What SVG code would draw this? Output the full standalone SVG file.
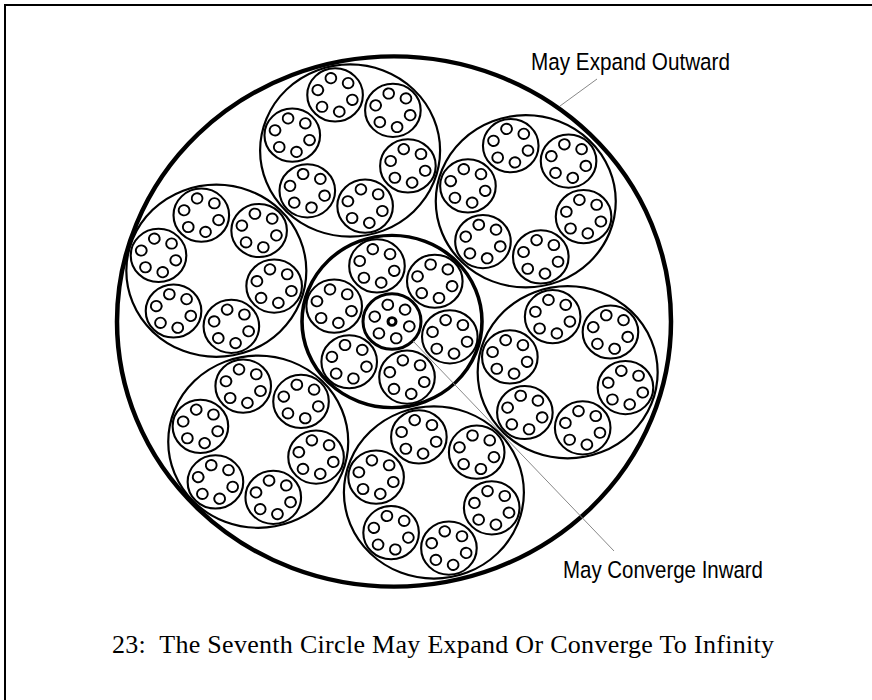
<svg xmlns="http://www.w3.org/2000/svg" width="872" height="700" viewBox="0 0 872 700">
<style>
.c{fill:none;stroke:#000}
.s{stroke-width:1.9}
.m{stroke-width:2.1}
.b{stroke-width:2.2}
.lbl{font-family:"Liberation Sans",Arial,sans-serif;font-size:24.5px;fill:#000}
.cap{font-family:"Liberation Serif","Times New Roman",serif;font-size:26px;fill:#000}
.lead{stroke:#888;stroke-width:1;fill:none}
</style>
<defs>
<circle id="sm" r="5.4" class="c s"/>
<g id="ring6">
<use href="#sm" transform="rotate(16.5) translate(18,0)"/>
<use href="#sm" transform="rotate(76.5) translate(18,0)"/>
<use href="#sm" transform="rotate(136.5) translate(18,0)"/>
<use href="#sm" transform="rotate(196.5) translate(18,0)"/>
<use href="#sm" transform="rotate(256.5) translate(18,0)"/>
<use href="#sm" transform="rotate(316.5) translate(18,0)"/>
</g>
<g id="med">
<circle r="27.8" class="c m"/>
<use href="#ring6"/>
</g>
<g id="medring">
<use href="#med" transform="rotate(15.5) translate(60,0) rotate(-15.5)"/>
<use href="#med" transform="rotate(75.5) translate(60,0) rotate(-75.5)"/>
<use href="#med" transform="rotate(135.5) translate(60,0) rotate(-135.5)"/>
<use href="#med" transform="rotate(195.5) translate(60,0) rotate(-195.5)"/>
<use href="#med" transform="rotate(255.5) translate(60,0) rotate(-255.5)"/>
<use href="#med" transform="rotate(315.5) translate(60,0) rotate(-315.5)"/>
</g>
<g id="big">
<circle r="90" class="c b"/>
<use href="#medring"/>
</g>
</defs>
<path d="M5,700 V5 H872" fill="none" stroke="#000" stroke-width="2"/>
<g id="outer" transform="translate(394,321.5) scale(1,0.957)">
<circle r="277" class="c" stroke-width="4.5"/>
</g>
<g transform="translate(392,321.5) scale(1,0.957)">
<g id="circle-1" transform="rotate(16.8) translate(183.5,0) rotate(-16.8)"><use href="#big"/></g>
<g id="circle-2" transform="rotate(76.8) translate(183.5,0) rotate(-76.8)"><use href="#big"/></g>
<g id="circle-3" transform="rotate(136.8) translate(183.5,0) rotate(-136.8)"><use href="#big"/></g>
<g id="circle-4" transform="rotate(196.8) translate(183.5,0) rotate(-196.8)"><use href="#big"/></g>
<g id="circle-5" transform="rotate(256.8) translate(183.5,0) rotate(-256.8)"><use href="#big"/></g>
<g id="circle-6" transform="rotate(316.8) translate(183.5,0) rotate(-316.8)"><use href="#big"/></g>
<g id="seventh-circle">
<circle r="90" class="c" stroke-width="3.6"/>
<use href="#medring"/>
<g id="inner-circle">
<circle r="29" class="c" stroke-width="3"/>
<use href="#ring6"/>
<circle r="4" class="c" stroke-width="3"/>
</g>
</g>
</g>
<g id="connectors">
<line class="lead" x1="597" y1="79" x2="560" y2="106"/>
<line class="lead" x1="413" y1="341" x2="614" y2="551"/>
</g>
<g id="labels">
<text class="lbl" x="531" y="70" textLength="199" lengthAdjust="spacingAndGlyphs">May Expand Outward</text>
<text class="lbl" x="563" y="578" textLength="200" lengthAdjust="spacingAndGlyphs">May Converge Inward</text>
<text class="cap" x="112" y="653" xml:space="preserve" textLength="662">23:  The Seventh Circle May Expand Or Converge To Infinity</text>
</g>
</svg>
